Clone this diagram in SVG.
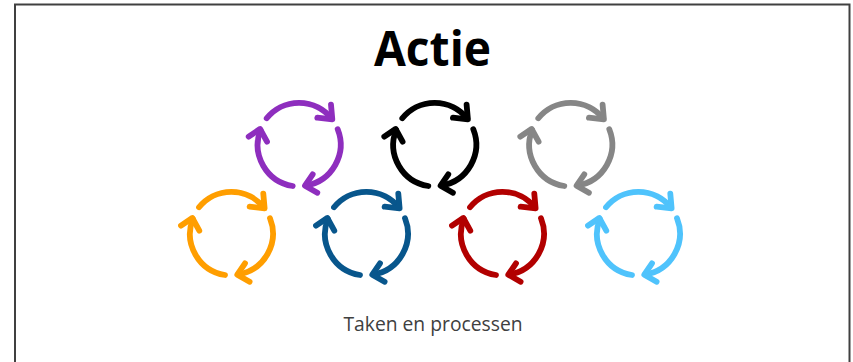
<svg xmlns="http://www.w3.org/2000/svg" width="853" height="362" viewBox="0 0 853 362">
<style>
.ring{fill:none;stroke:currentColor;stroke-width:5.8;stroke-linecap:round;stroke-linejoin:round}
.title{font-family:"Open Sans","Liberation Sans",sans-serif;font-weight:700;font-size:48px;fill:#000;text-anchor:middle}
.sub{font-family:"Open Sans","Liberation Sans",sans-serif;font-size:19.3px;fill:#404040;text-anchor:middle}
</style>
<defs>
<g id="cycle" class="ring">
<path d="M266.7 118.3A41.5 41.5 0 0 1 331.5 118.5"/>
<path d="M331 104.7L332.3 119.3L317.3 117.7"/>
<path d="M337.7 129.3A41.5 41.5 0 0 1 306 185.5"/>
<path d="M312.7 174.3L305 185.7L317.3 192.7"/>
<path d="M292.7 186A41.5 41.5 0 0 1 260.5 130"/>
<path d="M248.7 136.7L260 129L267 141.7"/>
</g>
</defs>
<rect id="frame" x="15" y="4.5" width="834.5" height="370" fill="#fff" stroke="#404040" stroke-width="2"/>
<text class="title" x="432.5" y="66" textLength="117" lengthAdjust="spacingAndGlyphs">Actie</text>
<g id="connectors">
<g id="ring-purple" color="#8E2EBE"><use href="#cycle"/></g>
<g id="ring-black" color="#000000"><use href="#cycle" x="135.6"/></g>
<g id="ring-gray" color="#868686"><use href="#cycle" x="271.6"/></g>
<g id="ring-orange" color="#FF9E00"><use href="#cycle" x="-67.7" y="89"/></g>
<g id="ring-blue" color="#08568C"><use href="#cycle" x="67.3" y="89"/></g>
<g id="ring-red" color="#B20000"><use href="#cycle" x="203.3" y="89"/></g>
<g id="ring-lightblue" color="#4FC3FC"><use href="#cycle" x="339.3" y="89"/></g>
</g>
<text class="sub" x="433" y="331">Taken en processen</text>
</svg>
